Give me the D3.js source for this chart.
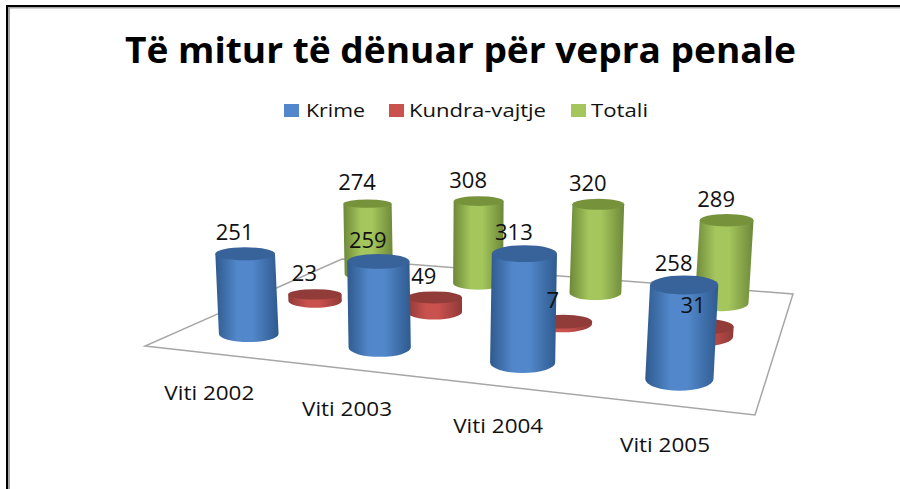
<!DOCTYPE html>
<html lang="en">
<head>
    <meta charset="UTF-8">
    <script src="https://d3js.org/d3.v7.min.js"></script>
    <title>Të mitur të dënuar për vepra penale</title>
    <style>
        html, body { margin: 0; padding: 0; background: #fff; overflow: hidden; }
        text { font-family: "Open Sans", sans-serif; fill: #111; }
    </style>
</head>
<body>
    <svg id="chart" width="900" height="489" style="display:block"></svg>
    <script>
        const categories = ['Viti 2002', 'Viti 2003', 'Viti 2004', 'Viti 2005']
        const seriesNames = ['Krime', 'Kundra-vajtje', 'Totali']
        const krime = [251, 259, 313, 258]
        const kundravajtje = [23, 49, 7, 31]
        const totali = [274, 308, 320, 289]
        const seriesValues = [krime, kundravajtje, totali]

        const colors = {
            'Krime': {edge: '#2f5a8e', mid: '#5288cb', top: '#38629a'},
            'Kundra-vajtje': {edge: '#8f3a37', mid: '#c9514e', top: '#923c39'},
            'Totali': {edge: '#6d8839', mid: '#a4c65c', top: '#76933c'}
        }

        var svg = d3.select('#chart')

        // floor corners: front-left, front-right, back-right, back-left
        var A = [145, 346], B = [755, 415], C = [793, 294], D = [342, 259]

        // unit square -> floor quad
        var dx1 = B[0] - C[0], dx2 = D[0] - C[0], sx = A[0] - B[0] + C[0] - D[0]
        var dy1 = B[1] - C[1], dy2 = D[1] - C[1], sy = A[1] - B[1] + C[1] - D[1]
        var den = dx1 * dy2 - dx2 * dy1
        var g = (sx * dy2 - dx2 * sy) / den
        var h = (dx1 * sy - sx * dy1) / den
        function project(u, v) {
            var w = g * u + h * v + 1
            return {
                x: ((B[0] - A[0] + g * B[0]) * u + (D[0] - A[0] + h * D[0]) * v + A[0]) / w,
                y: ((B[1] - A[1] + g * B[1]) * u + (D[1] - A[1] + h * D[1]) * v + A[1]) / w,
                s: 1 / w
            }
        }

        var x = d3.scaleBand().domain(categories).range([0, 1])
        var depth = d3.scaleBand().domain(seriesNames).range([0, 1])
        var height = d3.scaleLinear().domain([0, 320]).range([0, 106])
        var radius = 31

        // horizontal gradient for each series
        var defs = svg.append('defs')
        seriesNames.forEach((name, i) => {
            var grad = defs.append('linearGradient').attr('id', 'grad' + i)
            grad.append('stop').attr('offset', '0%').attr('stop-color', colors[name].edge)
            grad.append('stop').attr('offset', '35%').attr('stop-color', colors[name].mid)
            grad.append('stop').attr('offset', '58%').attr('stop-color', colors[name].mid)
            grad.append('stop').attr('offset', '100%').attr('stop-color', colors[name].edge)
        })

        // frame: black line with a grey shadow inside
        svg.append('path')
            .attr('d', 'M9,489V7.5H900')
            .attr('fill', 'none').attr('stroke', '#a6a6a6').attr('stroke-width', 2)
        svg.append('path')
            .attr('d', 'M7,489V6H900')
            .attr('fill', 'none').attr('stroke', '#000').attr('stroke-width', 2)

        // title
        svg.append('text')
            .attr('x', 460.5).attr('y', 63)
            .attr('text-anchor', 'middle')
            .attr('font-size', 36).attr('font-weight', 700)
            .attr('textLength', 671).attr('lengthAdjust', 'spacingAndGlyphs')
            .style('fill', '#000')
            .text('Të mitur të dënuar për vepra penale')

        // legend
        var legendX = [284, 389, 571], legendText = [306, 409, 591], legendEnd = [365, 546, 648]
        seriesNames.forEach((name, i) => {
            svg.append('rect')
                .attr('x', legendX[i]).attr('y', 104)
                .attr('width', 15).attr('height', 13)
                .attr('fill', colors[name].mid)
            svg.append('text')
                .attr('x', legendText[i]).attr('y', 117)
                .attr('font-size', 18)
                .attr('textLength', legendEnd[i] - legendText[i]).attr('lengthAdjust', 'spacingAndGlyphs')
                .text(name)
        })

        // floor
        svg.append('path')
            .attr('d', 'M' + [A, B, C, D].join('L') + 'Z')
            .attr('fill', '#fff').attr('stroke', '#a6a6a6').attr('stroke-width', 1.5)

        // cylinders, back row first
        var marks = []
        seriesNames.forEach((name, i) => {
            categories.forEach((cat, j) => {
                var p = project(x(cat) + x.bandwidth() / 2, depth(name) + depth.bandwidth() / 2)
                marks.push({name: name, i: i, j: j, cat: cat, value: seriesValues[i][j], p: p})
            })
        })
        marks.sort((a, b) => b.i - a.i)

        var aspect = d => 0.14 + 0.08 * (x(d.cat) + x.bandwidth() / 2) + 0.07 * (1 - depth(d.name))

        var cyl = svg.selectAll('.cyl').data(marks).enter().append('g').attr('class', 'cyl')
        cyl.each(function(d) {
            var r = radius * d.p.s
            var hgt = height(d.value) * d.p.s
            var lean = (d.p.x - 450) * 0.02 * hgt / 90
            var tx = d.p.x + lean, ty = d.p.y - hgt
            var ryTop = r * aspect(d), ryBot = r * (aspect(d) + 0.06)
            d.tx = tx; d.ty = ty
            var gEl = d3.select(this)
            gEl.append('path')
                .attr('d', `M${tx - r},${ty}L${d.p.x - r},${d.p.y}` +
                    `A${r},${ryBot} 0 0 0 ${d.p.x + r},${d.p.y}L${tx + r},${ty}Z`)
                .attr('fill', `url(#grad${d.i})`)
            gEl.append('ellipse')
                .attr('cx', tx).attr('cy', ty)
                .attr('rx', r).attr('ry', ryTop)
                .attr('fill', colors[d.name].top)
        })

        // value labels
        svg.selectAll('.val').data(marks).enter().append('text')
            .attr('class', 'val')
            .attr('x', d => d.tx - 10.5)
            .attr('y', d => d.ty - 13.5)
            .attr('text-anchor', 'middle')
            .attr('font-size', 22)
            .text(d => d.value)

        // category labels
        svg.selectAll('.cat').data(categories).enter().append('text')
            .attr('class', 'cat')
            .attr('x', d => project(x(d) + x.bandwidth() / 2, 0).x)
            .attr('y', d => project(x(d) + x.bandwidth() / 2, 0).y + 47)
            .attr('text-anchor', 'middle')
            .attr('font-size', 20)
            .attr('textLength', 90).attr('lengthAdjust', 'spacingAndGlyphs')
            .text(d => d)
    </script>
</body>
</html>
